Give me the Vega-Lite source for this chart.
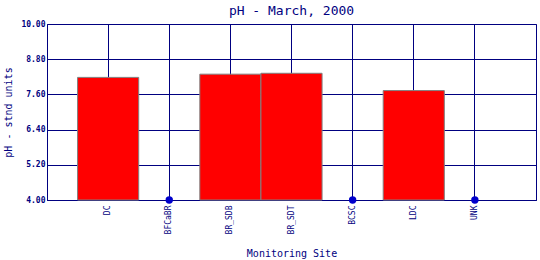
{
  "$schema": "https://vega.github.io/schema/vega-lite/v6.json",
  "autosize": "none",
  "width": 489,
  "height": 176,
  "padding": {"left": 47, "top": 24, "right": 4, "bottom": 60},
  "background": "white",
  "title": {
    "text": "pH - March, 2000",
    "font": "DejaVu Sans Mono",
    "fontSize": 13,
    "fontWeight": "normal",
    "color": "#000080",
    "anchor": "middle",
    "offset": 2
  },
  "config": {
    "view": {"stroke": "#000080", "strokeWidth": 1},
    "axis": {
      "domainColor": "#000080",
      "gridColor": "#000080",
      "gridOpacity": 1,
      "gridWidth": 1,
      "ticks": false,
      "labelColor": "#000080",
      "titleColor": "#000080",
      "labelFont": "DejaVu Sans Mono",
      "titleFont": "DejaVu Sans Mono",
      "labelFontSize": 8,
      "titleFontSize": 10,
      "titleFontWeight": "normal",
      "labelOverlap": false
    }
  },
  "data": {
    "values": [
      {"site": "DC", "ph": 8.18},
      {"site": "BFCaBR", "ph": null},
      {"site": "BR_SDB", "ph": 8.29},
      {"site": "BR_SDT", "ph": 8.32},
      {"site": "BCSC", "ph": null},
      {"site": "LDC", "ph": 7.73},
      {"site": "UNK", "ph": null}
    ]
  },
  "encoding": {
    "x": {
      "field": "site",
      "type": "nominal",
      "sort": null,
      "scale": {
        "domain": ["DC", "BFCaBR", "BR_SDB", "BR_SDT", "BCSC", "LDC", "UNK"],
        "paddingInner": 0,
        "paddingOuter": 0.5
      },
      "axis": {
        "title": "Monitoring Site",
        "grid": true,
        "bandPosition": 0.5,
        "labelAngle": 270,
        "labelAlign": "right",
        "labelBaseline": "middle",
        "labelPadding": 5,
        "labelOverlap": false,
        "titleY": 53,
        "titleBaseline": "middle"
      }
    }
  },
  "layer": [
    {
      "transform": [{"filter": "datum.ph != null"}],
      "mark": {"type": "bar", "color": "#ff0000", "stroke": "#808080", "strokeWidth": 1},
      "encoding": {
        "y": {
          "field": "ph",
          "type": "quantitative",
          "scale": {"domain": [4, 10], "zero": false, "nice": false},
          "axis": {
            "title": "pH - stnd units",
            "values": [4, 5.2, 6.4, 7.6, 8.8, 10],
            "tickCount": 12,
            "format": ".2f",
            "labelFontWeight": "bold",
            "labelPadding": 2,
            "labelOverlap": false,
            "labelFlush": false,
            "labelBound": false,
            "labelBaseline": "middle",
            "grid": true,
            "titleAngle": 270,
            "titleX": -39,
            "titleY": 88,
            "titleAlign": "center",
            "titleBaseline": "middle"
          }
        },
        "y2": {"datum": 4}
      }
    },
    {
      "transform": [{"filter": "datum.ph == null"}],
      "mark": {"type": "point", "filled": true, "color": "#0000cc", "size": 55, "opacity": 1, "clip": false},
      "encoding": {
        "y": {"datum": 4}
      }
    }
  ]
}
